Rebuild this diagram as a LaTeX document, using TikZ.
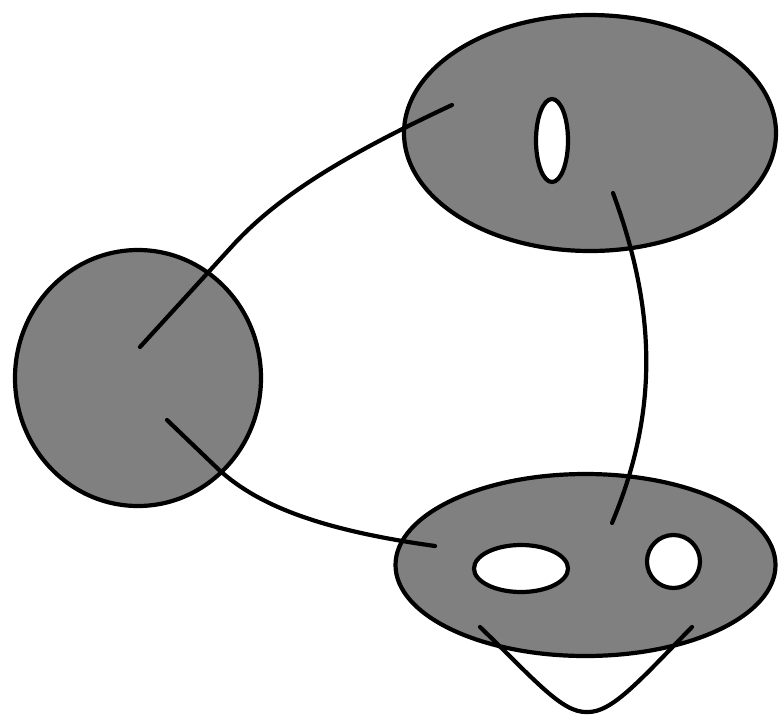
\documentclass[tikz,border=0pt]{standalone}
\usetikzlibrary{shapes.geometric}
\definecolor{blobgray}{RGB}{128,128,128}
\begin{document}
\begin{tikzpicture}[x=1pt,y=-1pt,
  blob/.style={ellipse,draw=black,fill=blobgray,line width=4.2pt,inner sep=0pt,outer sep=0pt},
  hole/.style={ellipse,draw=black,fill=white,line width=4.2pt,inner sep=0pt,outer sep=0pt},
  link/.style={draw=black,line width=4.2pt,line cap=round}]
\useasboundingbox[fill=white] (0,0) rectangle (780,716);
% main shapes
\node[blob,minimum width=246pt,minimum height=256pt] (disk) at (138,378) {};
\node[blob,minimum width=372pt,minimum height=236pt] (top) at (590,133) {};
\node[blob,minimum width=380pt,minimum height=182pt] (bot) at (585.5,565) {};
% holes
\node[hole,minimum width=32pt,minimum height=83pt] (tophole) at (552,140.5) {};
\node[hole,minimum width=94pt,minimum height=47pt] (ovalhole) at (521,568.5) {};
\node[hole,minimum width=53pt,minimum height=53pt] (roundhole) at (673.5,561.5) {};
% connector end points
\coordinate (d1) at (140,347);
\coordinate (d1b) at (235,243);
\coordinate (t1) at (452,105);
\coordinate (d2) at (167,420);
\coordinate (d2b) at (215,466);
\coordinate (b1) at (435,546);
\coordinate (t2) at (613,193);
\coordinate (b2) at (612,523);
\coordinate (l1) at (480,627);
\coordinate (l2) at (587,712);
\coordinate (l3) at (692,627);
% connectors
\path[link] (d1) -- (d1b) .. controls (280,195) and (345,155) .. (t1);
\path[link] (d2) -- (d2b) .. controls (255,505) and (320,530) .. (b1);
\path[link] (t2) .. controls (660,320) and (655,420) .. (b2);
\path[link] (l1) .. controls (535,680) and (562,713) .. (l2)
                 .. controls (612,713) and (640,680) .. (l3);
\end{tikzpicture}
\end{document}
